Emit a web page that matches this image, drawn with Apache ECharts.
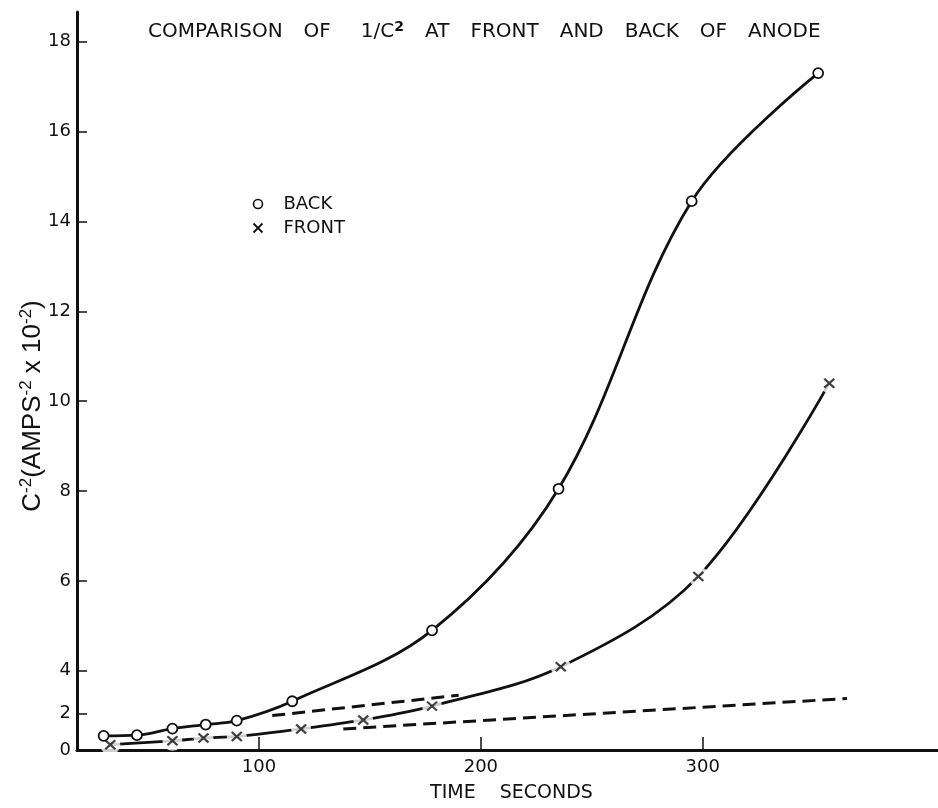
<!DOCTYPE html>
<html><head><meta charset="utf-8">
<script src="https://cdn.jsdelivr.net/npm/echarts@6/dist/echarts.min.js"></script>
<style>html,body{margin:0;padding:0;background:#fff}#c{width:938px;height:808px}</style>
</head><body><div id="c"></div>
<script>
// ---- data ----
const backTime  = [30, 45, 61, 76, 90, 115, 178, 235, 295, 352];
const backValue = [0.77, 0.81, 1.17, 1.39, 1.6, 2.57, 4.9, 8.05, 14.45, 17.3];
const frontTime  = [33, 61, 75, 90, 119, 147, 178, 236, 298, 357];
const frontValue = [0.29, 0.5, 0.65, 0.74, 1.15, 1.64, 2.34, 4.09, 6.1, 10.4];
const dashUpperTime  = [106, 190];
const dashUpperValue = [1.88, 2.85];
const dashLowerTime  = [138, 365];
const dashLowerValue = [1.15, 2.7];
const yTicks = [0, 2, 4, 6, 8, 10, 12, 14, 16, 18];
const xTicks = [100, 200, 300];

// The printed y axis is compressed below 4 (0-2 and 2-4 take less height than 4-6).
// Piecewise-linear axis scale reproducing that.
function yScale(v) {
  if (v >= 4) return v;
  if (v >= 2) return 4 - (4 - v) * 0.474;
  return 4 - 2 * 0.474 - (2 - v) * 0.4075;
}
function yLabel(p) {
  for (const t of yTicks) if (Math.abs(yScale(t) - p) < 1e-6) return String(t);
  return '';
}
const pts = (xs, ys) => xs.map((x, i) => [x, yScale(ys[i])]);

const INK = '#111';
const xPath = 'path://M0,0L10,10M10,0L0,10';
const FONT = 'DejaVu Sans';

const chart = echarts.init(document.getElementById('c'), null, {renderer: 'canvas'});
chart.setOption({
  animation: false,
  backgroundColor: '#fff',
  title: {
    text: 'COMPARISON{g| }OF{G| }1/C{s|2}{g| }AT{g| }FRONT{g| }AND{g| }BACK{g| }OF{g| }ANODE',
    left: 148, top: 20, padding: 0,
    textStyle: {
      fontSize: 20, fontWeight: 'normal', fontFamily: FONT, color: INK, lineHeight: 24,
      rich: {
        g: { width: 21, fontSize: 20, fontFamily: FONT },
        G: { width: 30, fontSize: 20, fontFamily: FONT },
        s: { fontSize: 14, fontWeight: 'bold', fontFamily: FONT, color: INK, lineHeight: 14, verticalAlign: 'top' }
      }
    }
  },
  legend: {
    orient: 'vertical', left: 251, top: 195, padding: 0, itemGap: 6,
    itemWidth: 9, itemHeight: 9,
    textStyle: { fontSize: 18, fontFamily: FONT, color: INK, padding: [0, 0, 0, 16] },
    data: [
      { name: 'BACK', icon: 'circle', itemStyle: { color: '#fff', borderColor: INK, borderWidth: 1.6 } },
      { name: 'FRONT', icon: xPath, itemStyle: { color: 'none', borderColor: INK, borderWidth: 1.8 } }
    ]
  },
  grid: { left: 77, right: 0, top: 12, bottom: 51, containLabel: false },
  xAxis: {
    type: 'value', min: 18, max: 406,
    name: '{a|TIME}{g| }{a|SECONDS}', nameLocation: 'middle', nameGap: 34, nameMoveOverlap: false,
    nameTextStyle: {
      color: INK, padding: [0, 0, 0, 8],
      rich: { a: { fontSize: 19, fontFamily: FONT, color: INK }, g: { width: 24, fontSize: 19 } }
    },
    axisLine: { lineStyle: { color: INK, width: 3 } },
    axisTick: { inside: true, length: 13, customValues: xTicks, lineStyle: { color: INK, width: 1.5 } },
    axisLabel: { customValues: xTicks, fontSize: 18, fontFamily: FONT, color: INK, margin: 8 },
    splitLine: { show: false }
  },
  yAxis: {
    type: 'value', min: yScale(0), max: 18.66,
    name: '{c|C}{s|-2}{c|(AMPS}{s|-2}{c| x 10}{s|-2}{c|)}',
    nameLocation: 'middle', nameRotate: 90, nameGap: 30, nameMoveOverlap: false,
    nameTextStyle: {
      color: INK, padding: [0, 50, 0, 0],
      rich: {
        c: { fontSize: 26, fontFamily: 'Liberation Sans', color: INK, lineHeight: 29 },
        s: { fontSize: 17, fontFamily: 'Liberation Sans', color: INK, lineHeight: 17, verticalAlign: 'top' }
      }
    },
    axisLine: { show: true, lineStyle: { color: INK, width: 3 } },
    axisTick: { show: true, inside: true, length: 10, customValues: yTicks.slice(1).map(yScale), lineStyle: { color: INK, width: 1.5 } },
    axisLabel: { customValues: yTicks.map(yScale), formatter: yLabel, fontSize: 18, fontFamily: FONT, color: INK, margin: 6 },
    splitLine: { show: false }
  },
  series: [
    {
      name: 'FRONT', type: 'line', smooth: 0.35, z: 2, silent: true,
      data: pts(frontTime, frontValue), showSymbol: false, symbol: 'none',
      lineStyle: { color: INK, width: 2.8 }
    },
    {
      type: 'scatter', z: 3, silent: true, symbol: 'circle', symbolSize: 20,
      data: pts(frontTime, frontValue), itemStyle: { color: '#fff' }
    },
    {
      type: 'line', z: 4, silent: true, symbol: 'none',
      data: pts(dashUpperTime, dashUpperValue),
      lineStyle: { color: INK, width: 3, type: [13, 7] }
    },
    {
      type: 'line', z: 4, silent: true, symbol: 'none',
      data: pts(dashLowerTime, dashLowerValue),
      lineStyle: { color: INK, width: 3, type: [13, 7] }
    },
    {
      name: 'BACK', type: 'line', smooth: 0.35, z: 5, silent: true,
      data: pts(backTime, backValue),
      symbol: 'circle', symbolSize: 10, showSymbol: true,
      itemStyle: { color: '#fff', borderColor: INK, borderWidth: 1.8 },
      lineStyle: { color: INK, width: 2.8 }
    },
    {
      type: 'scatter', z: 6, silent: true, symbol: xPath, symbolSize: [10, 9],
      data: pts(frontTime, frontValue),
      itemStyle: { color: 'none', borderColor: INK, borderWidth: 2.2 }
    }
  ]
});
</script></body></html>
